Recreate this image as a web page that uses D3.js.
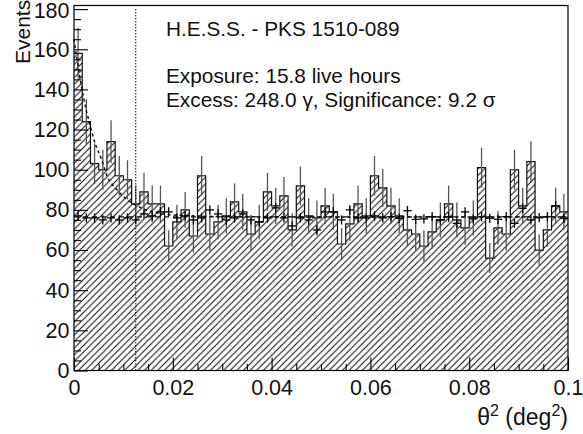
<!DOCTYPE html>
<html>
<head>
<meta charset="utf-8">
<script src="https://cdn.jsdelivr.net/npm/d3@7"></script>
<style>
  body { margin: 0; background: #fff; }
  svg { display: block; font-family: "Liberation Sans", Arial, Helvetica, sans-serif; }
  .lbl { fill: #111; }
</style>
</head>
<body>
<div id="chart"></div>
<script>
// theta^2 histogram, 60 bins from 0 to 0.1 deg^2
const thetaMax = 0.1;
const nBins = 60;

// ON-source counts per bin
const onCounts = [158, 124, 103, 100, 114, 97, 95, 83, 89, 83,
                  83, 62, 74, 80, 67, 97, 68, 74, 77, 84,
                  79, 68, 74, 89, 82, 87, 70, 92, 77, 76,
                  82, 79, 63, 73, 83, 77, 97, 91, 82, 77,
                  70, 68, 62, 69, 75, 83, 75, 71, 76, 101,
                  56, 71, 68, 100, 82, 104, 60, 70, 82, 79];

// normalised OFF-source counts per bin
const offCounts = [77, 76, 76, 75, 76, 75, 76, 75, 78, 77,
                   79, 79, 76, 77, 75, 76, 80, 78, 75, 76,
                   78, 75, 74, 76, 81, 76, 72, 76, 75, 70,
                   79, 79, 75, 80, 76, 76, 77, 76, 76.6, 75.8,
                   79.6, 75.3, 75.5, 76.6, 75, 76.6, 73.3, 79, 75.5, 76.6,
                   75.8, 75.3, 76.6, 73.3, 80.8, 75, 76.1, 76.6, 82, 75.8];
const offAlpha = 0.07;

// fitted PSF + background curve
const fitTheta  = [0, 0.001, 0.002, 0.003, 0.0043, 0.0056, 0.0066, 0.0087, 0.0103, 0.012, 0.016, 0.02, 0.03, 0.05, 0.1];
const fitEvents = [165, 149, 135, 124.5, 113, 105, 97.5, 90, 86, 83, 79, 77.5, 76.7, 76.5, 76.5];
const bgLevel = 76.5;
const thetaCut = 0.0125;

const yMajor = [0, 20, 40, 60, 80, 100, 120, 140, 160, 180];
const xMajor = [0, 0.02, 0.04, 0.06, 0.08, 0.1];
const xTickLabels = ["0", "0.02", "0.04", "0.06", "0.08", "0.1"];

const width = 583, height = 434;
const margin = { top: 5.5, right: 15, bottom: 63.5, left: 74 };
const binW = thetaMax / nBins;

const svg = d3.select("#chart").append("svg")
  .attr("width", width).attr("height", height);

const x = d3.scaleLinear().domain([0, thetaMax]).range([margin.left, width - margin.right]);
const y = d3.scaleLinear().domain([0, 181.8]).range([height - margin.bottom, margin.top]);

// hatch pattern
const s = 6.6;
svg.append("defs").append("pattern")
  .attr("id", "hatch").attr("patternUnits", "userSpaceOnUse")
  .attr("width", s).attr("height", s)
  .append("path")
  .attr("d", `M0,${s} L${s},0 M${-s/4},${s/4} L${s/4},${-s/4} M${s*3/4},${s*5/4} L${s*5/4},${s*3/4}`)
  .attr("stroke", "#000").attr("stroke-width", 0.95);

const bins = onCounts.map((v, i) => ({ lo: i * binW, v, off: offCounts[i] }));
const steps = bins.concat([{ lo: thetaMax, v: onCounts[nBins - 1] }]);

svg.append("path").datum(steps)
  .attr("fill", "url(#hatch)")
  .attr("d", d3.area().curve(d3.curveStepAfter).x(d => x(d.lo)).y0(y(0)).y1(d => y(d.v)));

svg.append("path").datum(steps)
  .attr("fill", "none").attr("stroke", "#111").attr("stroke-width", 1.2)
  .attr("d", d3.line().curve(d3.curveStepAfter).x(d => x(d.lo)).y(d => y(d.v)));

// ON error bars
svg.append("g").selectAll("line").data(bins).join("line")
  .attr("x1", d => x(d.lo + binW / 2)).attr("x2", d => x(d.lo + binW / 2))
  .attr("y1", d => y(d.v - Math.sqrt(d.v))).attr("y2", d => y(d.v + Math.sqrt(d.v)))
  .attr("stroke", "#555").attr("stroke-width", 1.3);

// background dashed level and fit curve
svg.append("line")
  .attr("x1", x(0)).attr("x2", x(thetaMax)).attr("y1", y(bgLevel)).attr("y2", y(bgLevel))
  .attr("stroke", "#111").attr("stroke-width", 1.4).attr("stroke-dasharray", "5,4");

svg.append("path").datum(fitTheta.map((t, i) => [t, fitEvents[i]]))
  .attr("fill", "none").attr("stroke", "#111").attr("stroke-width", 1.5)
  .attr("stroke-dasharray", "3,3")
  .attr("d", d3.line().curve(d3.curveMonotoneX).x(d => x(d[0])).y(d => y(d[1])));

// OFF crosses
const cross = svg.append("g").attr("stroke", "#000").attr("stroke-width", 1.3);
cross.selectAll(".h").data(bins).join("line").attr("class", "h")
  .attr("x1", d => x(d.lo)).attr("x2", d => x(d.lo + binW))
  .attr("y1", d => y(d.off)).attr("y2", d => y(d.off));
cross.selectAll(".v").data(bins).join("line").attr("class", "v")
  .attr("x1", d => x(d.lo + binW / 2)).attr("x2", d => x(d.lo + binW / 2))
  .attr("y1", d => y(d.off - Math.sqrt(d.off * offAlpha)))
  .attr("y2", d => y(d.off + Math.sqrt(d.off * offAlpha)));

// cut line
svg.append("line")
  .attr("x1", x(thetaCut)).attr("x2", x(thetaCut)).attr("y1", y(0)).attr("y2", margin.top + 2.5)
  .attr("stroke", "#111").attr("stroke-width", 1).attr("stroke-dasharray", "1.5,1.5");

// frame
svg.append("rect")
  .attr("x", x(0)).attr("y", y.range()[1])
  .attr("width", x(thetaMax) - x(0)).attr("height", y(0) - y.range()[1])
  .attr("fill", "none").attr("stroke", "#000").attr("stroke-width", 1.2);

// axes (ticks inside, ROOT style)
const yMinor = d3.range(0, 181, 5).filter(v => v % 20 !== 0);
const xMinor = d3.range(0, 21).map(i => i * 0.005).filter((v, i) => i % 4 !== 0);

const gy = svg.append("g").attr("transform", `translate(${x(0)},0)`);
gy.call(d3.axisLeft(y).tickValues(yMinor).tickSize(-7).tickFormat(""));
gy.select(".domain").remove();
const gy2 = svg.append("g").attr("transform", `translate(${x(0)},0)`);
gy2.call(d3.axisLeft(y).tickValues(yMajor).tickSize(-14).tickPadding(4.5).tickFormat(d3.format("d")));
gy2.select(".domain").remove();

const gx = svg.append("g").attr("transform", `translate(0,${y(0)})`);
gx.call(d3.axisBottom(x).tickValues(xMinor).tickSize(-6.5).tickFormat(""));
gx.select(".domain").remove();
const gx2 = svg.append("g").attr("transform", `translate(0,${y(0)})`);
gx2.call(d3.axisBottom(x).tickValues(xMajor).tickSize(-13).tickPadding(9).tickFormat((d, i) => xTickLabels[i]));
gx2.select(".domain").remove();

svg.selectAll(".tick line").attr("stroke", "#000").attr("stroke-width", 1.1);
svg.selectAll(".tick text").attr("class", "lbl").attr("fill", "#111")
  .attr("font-size", "21.5px").attr("font-family", "Liberation Sans, Arial, sans-serif");
// top label sits right at the edge, as in the original
gy2.selectAll(".tick text").filter(d => d === 180).attr("dy", "0.38em");

// titles
svg.append("text").attr("class", "lbl")
  .attr("transform", "translate(30,64) rotate(-90)")
  .attr("text-anchor", "start").attr("font-size", "21px").text("Events");

const xt = svg.append("text").attr("class", "lbl")
  .attr("x", x(thetaMax)).attr("y", 425).attr("text-anchor", "end").attr("font-size", "23px");
xt.append("tspan").text("θ");
xt.append("tspan").attr("dy", -9).attr("font-size", "16px").text("2");
xt.append("tspan").attr("dy", 9).text(" (deg");
xt.append("tspan").attr("dy", -9).attr("font-size", "16px").text("2");
xt.append("tspan").attr("dy", 9).text(")");

// annotation text
const notes = [
  { t: "H.E.S.S. - PKS 1510-089", yb: 36 },
  { t: "Exposure: 15.8 live hours", yb: 83 },
  { t: "Excess: 248.0 γ, Significance: 9.2 σ", yb: 107 }
];
svg.append("g").selectAll("text").data(notes).join("text")
  .attr("class", "lbl").attr("x", 166).attr("y", d => d.yb)
  .attr("font-size", "20.8px").text(d => d.t);
</script>
</body>
</html>
